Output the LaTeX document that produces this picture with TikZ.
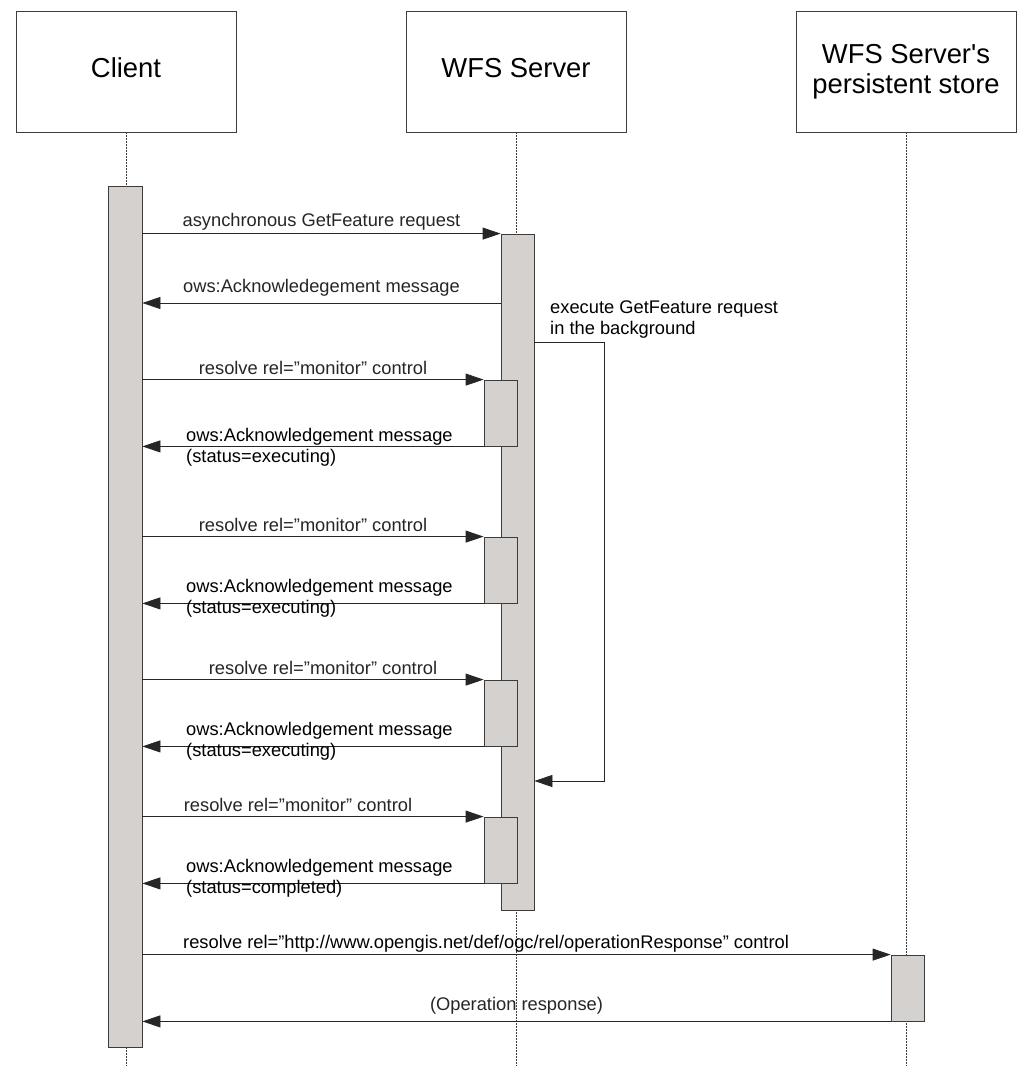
\documentclass[tikz,border=0pt]{standalone}
\usepackage{fontspec}
\setmainfont{Liberation Sans}
\usetikzlibrary{arrows.meta}
\definecolor{bargray}{RGB}{213,209,206}
\definecolor{edgegray}{RGB}{60,60,60}

\begin{document}
\begin{tikzpicture}[x=1pt,y=-1pt,
  actor/.style={draw=edgegray,line width=0.8pt,minimum width=220pt,minimum height=121pt,align=center,font=\fontsize{27.4}{30}\selectfont},
  bar/.style={draw=edgegray,line width=0.8pt,fill=bargray,minimum width=33pt,inner sep=0pt},
  life/.style={edgegray,line width=0.8pt,dash pattern=on 1.5pt off 1.5pt},
  msg/.style={black!85,line width=0.8pt,-{Triangle[length=18pt,width=12pt]}},
  msglabel/.style={font=\fontsize{18.3}{21}\selectfont,inner sep=0pt,text height=13pt,text depth=4pt},
  notelabel/.style={font=\fontsize{18.3}{21}\selectfont,inner sep=0pt,align=left}]
  \path[use as bounding box,fill=white] (0,0) rectangle (1031,1081);

  % participants
  \node[actor,text depth=8pt] (client) at (126,71.5) {Client};
  \node[actor,text depth=8pt] (wfs) at (516,71.5) {WFS Server};
  \node[actor] (store) at (906,71.5) {WFS Server\textquotesingle s\\persistent store};
  \draw[life] (client.south) -- (client.south |- 0,1066);
  \draw[life] (wfs.south) -- (wfs.south |- 0,1066);
  \draw[life] (store.south) -- (store.south |- 0,1066);

  % activations
  \node[bar,minimum width=34pt,minimum height=861pt] (cbar) at (125,616.5) {};
  \node[bar,minimum height=676pt] (wbar) at (517.5,572) {};
  \node[bar,minimum height=66pt] (sb1) at (500.5,413) {};
  \node[bar,minimum height=66pt] (sb2) at (500.5,570) {};
  \node[bar,minimum height=66pt] (sb3) at (500.5,713) {};
  \node[bar,minimum height=66pt] (sb4) at (500.5,850) {};
  \node[bar,minimum height=66pt] (stbar) at (907.5,988) {};

  % request and first answer
  \draw[msg] (cbar.east |- wbar.north) -- (wbar.north west) node[msglabel,midway,above=3pt] (req) {asynchronous GetFeature request};
  \draw[msg] (wbar.west |- 0,303) -- (cbar.east |- 0,303) node[msglabel,midway,above=6pt] (ack) {ows:Acknowledegement message};

  % background execution
  \draw[msg] (wbar.east |- 0,342) -- (604,342) -- (604,781) -- (wbar.east |- 0,781);
  \node[notelabel,anchor=west] (bg) at (550,320) {execute GetFeature request\\in the background};

  % polling
  \draw[msg] (cbar.east |- sb1.north) -- (sb1.north west) node[msglabel,midway,above=1pt] (mon1) {resolve rel=”monitor” control};
  \draw[msg] (sb1.south west) -- (cbar.east |- sb1.south);
  \node[notelabel,anchor=west] (st1) at (186,447) {ows:Acknowledgement message\\(status=executing)};

  \draw[msg] (cbar.east |- sb2.north) -- (sb2.north west) node[msglabel,midway,above=1pt] (mon2) {resolve rel=”monitor” control};
  \draw[msg] (sb2.south west) -- (cbar.east |- sb2.south);
  \node[notelabel,anchor=west] (st2) at (186,598) {ows:Acknowledgement message\\(status=executing)};

  \draw[msg] (cbar.east |- sb3.north) -- (sb3.north west) node[msglabel,midway,above=1pt,xshift=10pt] (mon3) {resolve rel=”monitor” control};
  \draw[msg] (sb3.south west) -- (cbar.east |- sb3.south);
  \node[notelabel,anchor=west] (st3) at (186,741) {ows:Acknowledgement message\\(status=executing)};

  \draw[msg] (cbar.east |- sb4.north) -- (sb4.north west) node[msglabel,midway,above=1pt,xshift=-15pt] (mon4) {resolve rel=”monitor” control};
  \draw[msg] (sb4.south west) -- (cbar.east |- sb4.south);
  \node[notelabel,anchor=west] (st4) at (186,878) {ows:Acknowledgement message\\(status=completed)};

  % final response
  \draw[msg] (cbar.east |- stbar.north) -- (stbar.north west);
  \node[msglabel,anchor=base west] (url) at (183,948) {resolve rel=”http://www.opengis.net/def/ogc/rel/operationResponse” control};
  \draw[msg] (stbar.south west) -- (cbar.east |- stbar.south) node[msglabel,midway,above=7pt] (resp) {(Operation response)};
\end{tikzpicture}
\end{document}
